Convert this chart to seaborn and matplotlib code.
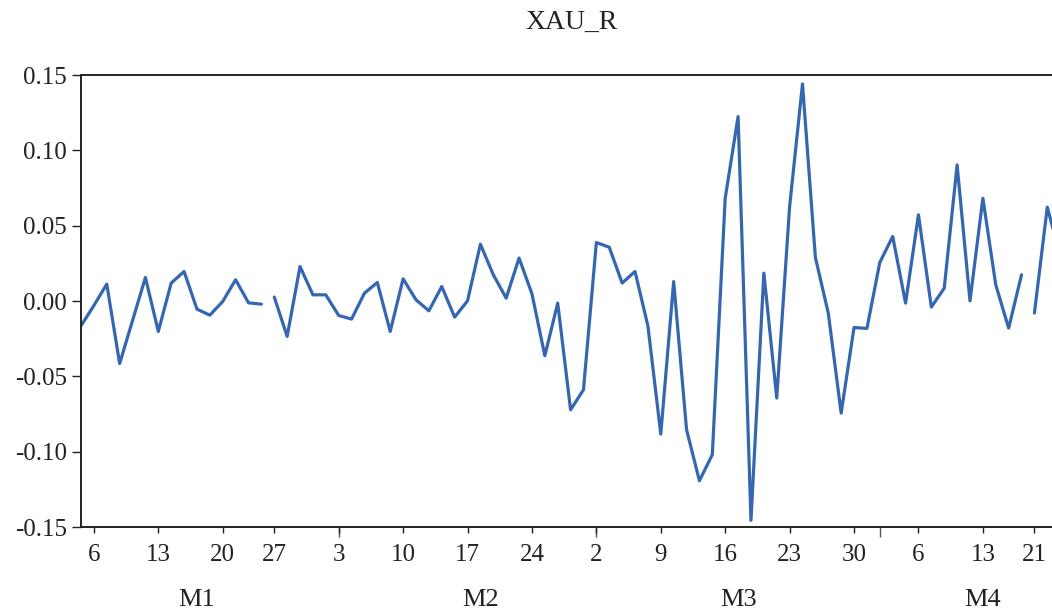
import numpy as np
import pandas as pd
import matplotlib
matplotlib.use("Agg")
import matplotlib.pyplot as plt
import matplotlib.transforms as mtransforms
import seaborn as sns

# ---- data ----
xau_r = [
    -0.0165, -0.0030, 0.0112, -0.0415, -0.0130, 0.0156, -0.0202, 0.0119, 0.0196, -0.0054,
    -0.0094, -0.0003, 0.0141, -0.0012, -0.0021,
    0.0026, -0.0235, 0.0229, 0.0041, 0.0041, -0.0096, -0.0120, 0.0052, 0.0123, -0.0202,
    0.0147, 0.0008, -0.0065, 0.0096, -0.0107, 0.0001, 0.0377, 0.0174, 0.0019, 0.0285,
    0.0048, -0.0363, -0.0014, -0.0722, -0.0589, 0.0388, 0.0357, 0.0119, 0.0196, -0.0165,
    -0.0883, 0.0129, -0.0854, -0.1193, -0.1020, 0.0682, 0.1224, -0.1456, 0.0185, -0.0644,
    0.0627, 0.1441, 0.0289, -0.0080, -0.0744, -0.0176, -0.0182, 0.0256, 0.0428, -0.0014,
    0.0572, -0.0040, 0.0085, 0.0903, 0.0001, 0.0682, 0.0107, -0.0180, 0.0174,
    -0.0080, 0.0623, 0.0300,
]
breaks_after = [14, 73]          # line is interrupted after these observations
day_tick_pos = [1, 6, 11, 15, 20, 25, 30, 35, 40, 45, 50, 55, 60, 65, 70, 74]
day_tick_labels = ["6", "13", "20", "27", "3", "10", "17", "24", "2", "9",
                   "16", "23", "30", "6", "13", "21"]
month_start_pos = [20, 40, 62]
month_labels = ["M1", "M2", "M3", "M4"]
month_label_pos = [9, 31, 51, 70]
y_ticks = [-0.15, -0.10, -0.05, 0.00, 0.05, 0.10, 0.15]

obs = np.arange(len(xau_r))
segment = np.searchsorted(breaks_after, obs, side="left")
df = pd.DataFrame({"obs": obs, "xau_r": xau_r, "segment": segment})

# ---- style ----
sns.set_style("ticks")
plt.rcParams["font.family"] = ["Liberation Serif", "DejaVu Serif"]

W, H = 1052, 610
fig = plt.figure(figsize=(W / 100, H / 100), dpi=100)
left_px, right_px, top_px, bottom_px = 81, 1062, 75, 527
ax = fig.add_axes([left_px / W, (H - bottom_px) / H,
                   (right_px - left_px) / W, (bottom_px - top_px) / H])

step = 12.884
sns.lineplot(data=df, x="obs", y="xau_r", units="segment", estimator=None,
             color="#3566b0", linewidth=2.3, ax=ax, legend=False)

ax.set_xlim(0, (right_px - left_px) / step)
ax.set_ylim(-0.15, 0.15)
ax.set_xlabel("")
ax.set_ylabel("")

ax.set_yticks(y_ticks)
ax.set_yticklabels([f"{v:.2f}" for v in y_ticks])

# labeled day ticks (minor) and month-boundary ticks (major)
ax.set_xticks(month_start_pos)
ax.set_xticklabels([])
ax.set_xticks(day_tick_pos, minor=True)
ax.set_xticklabels(day_tick_labels, minor=True)
ax.xaxis.remove_overlapping_locs = False

ax.tick_params(axis="y", which="major", direction="out", length=6.5, width=1.0,
               color="#222222", labelsize=18, labelcolor="#222222", pad=3.5)
ax.tick_params(axis="x", which="major", direction="out", length=7.5, width=1.0,
               color="#555555")
ax.tick_params(axis="x", which="minor", direction="out", length=4.5, width=1.0,
               color="#222222", labelsize=18, labelcolor="#222222", pad=8)

for side in ["left", "bottom", "top"]:
    ax.spines[side].set_visible(True)
    ax.spines[side].set_linewidth(1.4)
    ax.spines[side].set_color("#222222")
ax.spines["right"].set_visible(False)

# month labels
trans = mtransforms.blended_transform_factory(ax.transData, fig.transFigure)
for pos, lab in zip(month_label_pos, month_labels):
    ax.text(pos, (H - 600) / H, lab, transform=trans, ha="center", va="center",
            fontsize=19, color="#222222", clip_on=False)

fig.text(572 / W, (H - 22) / H, "XAU_R", ha="center", va="center",
         fontsize=20, color="#222222")

fig.savefig("out.png", dpi=100)
